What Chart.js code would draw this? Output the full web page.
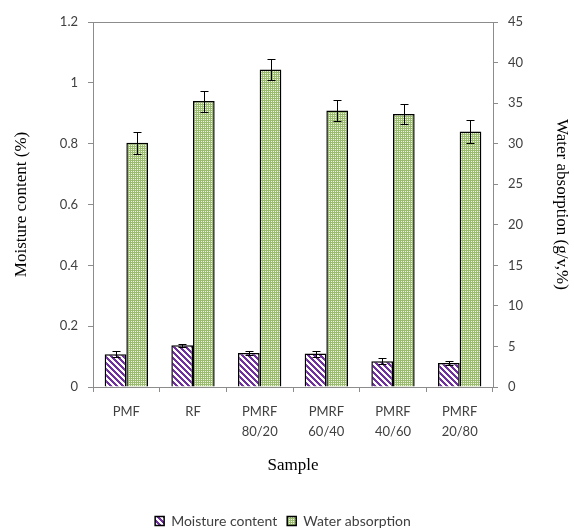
<!DOCTYPE html>
<html>
<head>
<meta charset="utf-8">
<script src="https://cdn.jsdelivr.net/npm/chart.js@4/dist/chart.umd.min.js"></script>
<style>
  html, body { margin: 0; padding: 0; background: #ffffff; }
  #wrap { width: 574px; height: 531px; }
</style>
</head>
<body>
<div id="wrap"><canvas id="chart" width="574" height="531"></canvas></div>
<script>
// Samples on the x axis
const categories = ['PMF', 'RF', ['PMRF', '80/20'], ['PMRF', '60/40'], ['PMRF', '40/60'], ['PMRF', '20/80']];

// Moisture content (%) and its standard deviation
const moisture = [0.108, 0.137, 0.112, 0.110, 0.085, 0.079];
const moistureErr = [0.010, 0.006, 0.007, 0.010, 0.009, 0.008];

// Water absorption (g/v,%) and its standard deviation
const water = [30.1, 35.25, 39.15, 34.1, 33.65, 31.5];
const waterErr = [1.33, 1.30, 1.30, 1.32, 1.28, 1.36];

// Axis tick labels
const leftTicks = ['0', '0.2', '0.4', '0.6', '0.8', '1', '1.2'];
const rightTicks = ['0', '5', '10', '15', '20', '25', '30', '35', '40', '45'];

// Diagonal purple stripes
function stripePattern() {
  const s = 6;
  const c = document.createElement('canvas');
  c.width = s; c.height = s;
  const g = c.getContext('2d');
  const img = g.createImageData(s, s);
  for (let y = 0; y < s; y++) {
    for (let x = 0; x < s; x++) {
      const k = ((x - y) % s + s) % s;
      const on = k < 3;
      const i = (y * s + x) * 4;
      img.data[i] = on ? 0x70 : 0xff;
      img.data[i + 1] = on ? 0x30 : 0xff;
      img.data[i + 2] = on ? 0xa0 : 0xff;
      img.data[i + 3] = 255;
    }
  }
  g.putImageData(img, 0, 0);
  return g.createPattern(c, 'repeat');
}

// Fine green dotted grid
function dotPattern() {
  const s = 4;
  const c = document.createElement('canvas');
  c.width = s; c.height = s;
  const g = c.getContext('2d');
  const img = g.createImageData(s, s);
  for (let y = 0; y < s; y++) {
    for (let x = 0; x < s; x++) {
      const light = (x % 2 === 1) && (y % 2 === 1);
      const i = (y * s + x) * 4;
      img.data[i] = light ? 0xee : 0x9b;
      img.data[i + 1] = light ? 0xf3 : 0xbb;
      img.data[i + 2] = light ? 0xe4 : 0x6e;
      img.data[i + 3] = 255;
    }
  }
  g.putImageData(img, 0, 0);
  return g.createPattern(c, 'repeat');
}

const errors = [moistureErr, waterErr];

// Error bars with caps on top of each bar
const errorBars = {
  id: 'errorBars',
  afterDatasetsDraw(chart) {
    const ctx = chart.ctx;
    ctx.save();
    ctx.strokeStyle = '#000000';
    ctx.lineWidth = 1;
    chart.data.datasets.forEach((ds, di) => {
      const meta = chart.getDatasetMeta(di);
      const scale = chart.scales[ds.yAxisID];
      meta.data.forEach((bar, i) => {
        const v = ds.data[i];
        const e = errors[di][i];
        const x = Math.round(bar.x) + 0.5;
        const yt = Math.round(scale.getPixelForValue(v + e)) + 0.5;
        const yb = Math.round(scale.getPixelForValue(v - e)) + 0.5;
        const cap = 4;
        ctx.beginPath();
        ctx.moveTo(x, yt); ctx.lineTo(x, yb);
        ctx.moveTo(x - cap, yt); ctx.lineTo(x + cap, yt);
        ctx.moveTo(x - cap, yb); ctx.lineTo(x + cap, yb);
        ctx.stroke();
      });
    });
    ctx.restore();
  }
};

// Top edge of the plot frame
const frameTop = {
  id: 'frameTop',
  afterDraw(chart) {
    const a = chart.chartArea;
    const ctx = chart.ctx;
    ctx.save();
    ctx.strokeStyle = '#8c8c8c';
    ctx.lineWidth = 1;
    ctx.beginPath();
    ctx.moveTo(a.left, Math.round(a.top) + 0.5);
    ctx.lineTo(a.right, Math.round(a.top) + 0.5);
    ctx.stroke();
    ctx.restore();
  }
};

const tickFont = { family: 'Lato', size: 13 };
const xTickFont = { family: 'Lato', size: 13, lineHeight: 1.6 };
const titleFont = { family: 'Liberation Serif', size: 17 };
const axisGray = '#8c8c8c';
const textGray = '#404040';

new Chart(document.getElementById('chart'), {
  type: 'bar',
  data: {
    labels: categories,
    datasets: [
      {
        label: 'Moisture content',
        data: moisture,
        yAxisID: 'y',
        backgroundColor: stripePattern(),
        borderColor: '#000000',
        borderWidth: 1.5
      },
      {
        label: 'Water absorption',
        data: water,
        yAxisID: 'y1',
        backgroundColor: dotPattern(),
        borderColor: '#000000',
        borderWidth: 1.5
      }
    ]
  },
  options: {
    responsive: false,
    animation: false,
    devicePixelRatio: 1,
    layout: { padding: { top: 22, left: 0, right: 8, bottom: 0 } },
    datasets: { bar: { categoryPercentage: 0.65, barPercentage: 1.0 } },
    plugins: {
      tooltip: { enabled: false },
      legend: {
        position: 'bottom',
        maxHeight: 27,
        labels: {
          font: { family: 'Lato', size: 14 },
          color: textGray,
          boxWidth: 9,
          boxHeight: 9,
          padding: 10
        }
      }
    },
    scales: {
      x: {
        grid: { display: true, drawOnChartArea: false, offset: true, tickLength: 5, color: axisGray },
        border: { color: axisGray },
        ticks: { font: xTickFont, color: textGray, padding: 9, maxRotation: 0 },
        title: { display: true, text: 'Sample', font: titleFont, color: '#000000', padding: { top: 4, bottom: 28 } },
        afterFit(s) { s.height = 117; }
      },
      y: {
        position: 'left',
        min: 0, max: 1.2,
        ticks: {
          stepSize: 0.2, font: tickFont, color: textGray, padding: 10,
          callback: (v, i) => leftTicks[i]
        },
        grid: { display: true, drawOnChartArea: false, tickLength: 5, color: axisGray },
        border: { color: axisGray },
        title: { display: true, text: 'Moisture content (%)', font: titleFont, color: '#000000', padding: { top: 11, bottom: 0 } },
        afterFit(s) { s.width = 93; }
      },
      y1: {
        position: 'right',
        min: 0, max: 45,
        ticks: {
          stepSize: 5, font: tickFont, color: textGray, padding: 10,
          callback: (v, i) => rightTicks[i]
        },
        grid: { display: true, drawOnChartArea: false, tickLength: 5, color: axisGray },
        border: { color: axisGray },
        title: { display: true, text: 'Water absorption (g/v,%)', font: titleFont, color: '#000000', padding: { top: -6, bottom: 0 } },
        afterFit(s) { s.width = 73; }
      }
    }
  },
  plugins: [errorBars, frameTop]
});
</script>
</body>
</html>
